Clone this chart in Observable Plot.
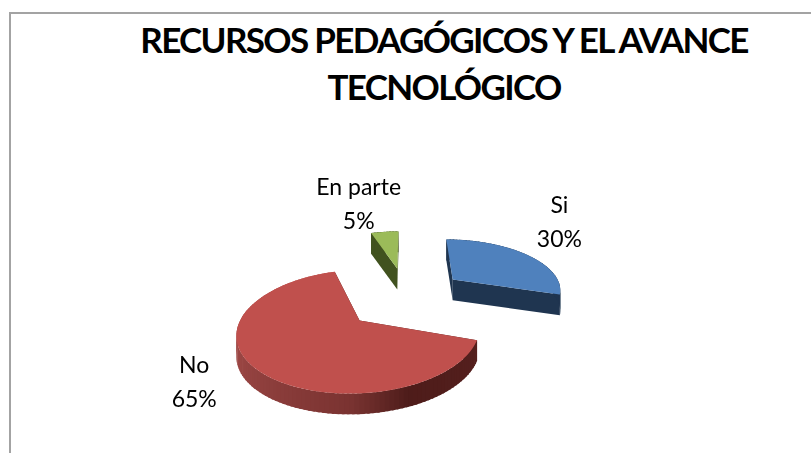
<!DOCTYPE html>
<html><head><meta charset="utf-8">
<script src="https://cdn.jsdelivr.net/npm/d3@7"></script>
<script src="https://cdn.jsdelivr.net/npm/@observablehq/plot@0.6"></script>
<style>
html,body{margin:0;padding:0;background:#fff;overflow:hidden}
#page{position:relative;width:811px;height:453px;font-family:Lato,sans-serif;color:#000}
#frame{position:absolute;left:9px;top:12px;width:802px;height:441px;border-left:2px solid #a3a3a3;border-top:2px solid #a3a3a3;box-sizing:border-box}
#title{position:absolute;left:0;top:16px;width:888px;margin:0;text-align:center;font-size:35px;font-weight:700;line-height:47px;letter-spacing:-1.65px}
#chart{position:absolute;left:0;top:0}
#chart svg{display:block;background:transparent;filter:blur(.4px)}
</style></head><body>
<div id="page"><div id="frame"></div>
<h1 id="title">RECURSOS PEDAGÓGICOS Y EL AVANCE<br>TECNOLÓGICO</h1>
<div id="chart"></div></div>
<script>
const categories = ["Si", "No", "En parte"];
const values = [30, 65, 5];
const topColors = ["#4f81bd", "#c0504d", "#9bbb59"];
const wallColors = ["#1f3550", "#7a3331", "#41521f"];
const labelDx = [33, -62, -26];
const labelDy = [-35, 10, -31];

// 3-D pie view: perspective strength, slice explosion, wall depth (pie units)
const persp = 0.166, explodeU = 0.55, explodeV = 0.6, depth = 0.4;
const redWall = d3.scaleLinear().domain([108, 157, 180, 230, 275]).range(["#55201e", "#4e1c1a", "#7a3331", "#934240", "#a94e4b"]);

const total = d3.sum(values);
let cum = 0;
const slices = categories.map((name, i) => {
  const a0 = cum / total * 360; cum += values[i];
  const a1 = cum / total * 360, mid = (a0 + a1) / 2, r = mid * Math.PI / 180;
  return {name, i, a0, a1, mid, value: values[i], ou: explodeU * Math.sin(r), ov: explodeV * Math.cos(r)};
});
const proj = (s, rad, deg, drop = 0) => {
  const t = deg * Math.PI / 180, u = s.ou + rad * Math.sin(t), v = s.ov + rad * Math.cos(t), w = 1 + persp * v;
  return {x: u / w, y: v / w - drop};
};
const arcDegs = (s) => d3.range(s.a0, s.a1, 2).concat(s.a1);

const walls = [], tops = [];
slices.forEach(s => {
  const deg = arcDegs(s);
  for (const a of [s.a0, s.a1]) {
    [proj(s,0,a), proj(s,1,a), proj(s,1,a,depth), proj(s,0,a,depth)].forEach(p =>
      walls.push({...p, id: `${s.name}-r${a}`, fill: s.name === "No" ? "#4e1c1a" : wallColors[s.i]}));
  }
  for (let k = 0; k < deg.length - 1; k++) {
    const a = deg[k], b = Math.min(deg[k + 1] + 1, s.a1);
    const c = s.name === "No" ? redWall((a + b) / 2) : wallColors[s.i];
    [proj(s,1,a), proj(s,1,b), proj(s,1,b,depth), proj(s,1,a,depth)].forEach(p =>
      walls.push({...p, id: `${s.name}-a${a}`, fill: d3.rgb(c).formatHex()}));
  }
  [proj(s,0,s.a0), ...deg.map(a => proj(s,1,a))].forEach(p =>
    tops.push({...p, id: s.name, fill: topColors[s.i]}));
});

const labelMarks = slices.map(s => {
  const p = proj(s, 1, s.mid);
  return Plot.text([{...p, t: `${s.name}\n${s.value}%`}], {
    x: "x", y: "y", text: "t", dx: labelDx[s.i], dy: labelDy[s.i],
    fontSize: 23, lineHeight: 1.48, fill: "#000", fontFamily: "Lato, sans-serif"
  });
});

const chart = Plot.plot({
  width: 811, height: 453, margin: 0, style: {background: "transparent"},
  x: {domain: [-405.5 / 111, (811 - 405.5) / 111], range: [0, 811], axis: null},
  y: {domain: [296.3 / 51.9, (296.3 - 453) / 51.9], range: [0, 453], axis: null},
  marks: [
    Plot.line(walls, {x: "x", y: "y", z: "id", fill: "fill", curve: "linear-closed"}),
    Plot.line(tops, {x: "x", y: "y", z: "id", fill: "fill", curve: "linear-closed"}),
    ...labelMarks
  ]
});
document.getElementById("chart").append(chart);
</script></body></html>
